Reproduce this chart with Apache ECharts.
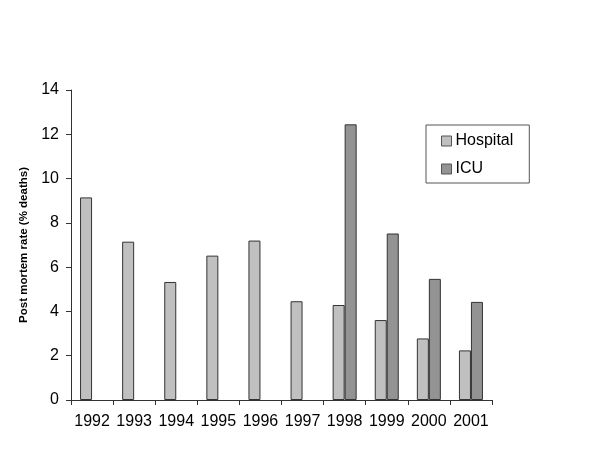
<!DOCTYPE html>
<html><head><meta charset="utf-8">
<script src="https://cdn.jsdelivr.net/npm/echarts@6/dist/echarts.min.js"></script>
<style>html,body{margin:0;padding:0;background:#fff}#c{width:600px;height:449px}</style>
</head><body><div id="c"></div>
<script>
var years = ['1992','1993','1994','1995','1996','1997','1998','1999','2000','2001'];
var hospital = [9.15, 7.15, 5.33, 6.52, 7.2, 4.46, 4.29, 3.61, 2.78, 2.24];
var icu = [null, null, null, null, null, null, 12.45, 7.52, 5.47, 4.43];
var yTicks = [0, 2, 4, 6, 8, 10, 12, 14];
var yTitle = 'Post mortem rate (% deaths)';

var chart = echarts.init(document.getElementById('c'));
var font = 'Liberation Sans, Arial, sans-serif';
chart.setOption({
  animation: false,
  backgroundColor: '#fff',
  grid: {left: 71, right: 108, top: 90, bottom: 49},
  legend: {
    orient: 'vertical', left: 426, top: 125,
    padding: [8, 16, 6, 15],
    borderColor: '#555', borderWidth: 1, backgroundColor: '#fff',
    itemWidth: 10, itemHeight: 10, itemGap: 12,
    icon: 'rect',
    itemStyle: {borderColor: '#555', borderWidth: 1},
    textStyle: {fontFamily: font, fontSize: 16, color: '#000', padding: [0,0,0,-1]},
    data: ['Hospital', 'ICU']
  },
  xAxis: {
    type: 'category', data: years,
    axisLine: {lineStyle: {color: '#333', width: 1}},
    axisTick: {show: true, length: 5, lineStyle: {color: '#333'}},
    axisLabel: {fontFamily: font, fontSize: 16, color: '#000', margin: 14,
      interval: 0, hideOverlap: false}
  },
  yAxis: {
    type: 'value', min: 0, max: 14, interval: 2,
    name: yTitle, nameLocation: 'middle', nameGap: 34,
    nameTextStyle: {fontFamily: font, fontSize: 11.5, fontWeight: 'bold', color: '#000'},
    splitLine: {show: false},
    axisLine: {show: true, lineStyle: {color: '#333', width: 1}},
    axisTick: {show: true, length: 5, lineStyle: {color: '#333'}},
    axisLabel: {fontFamily: font, fontSize: 16, color: '#000', margin: 12,
      formatter: function (v) { return yTicks.indexOf(v) >= 0 ? String(v) : ''; }}
  },
  series: [
    {name: 'Hospital', type: 'bar', data: hospital, barWidth: 12, barGap: '0%',
     itemStyle: {color: '#c0c0c0', borderColor: '#333', borderWidth: 1}},
    {name: 'ICU', type: 'bar', data: icu, barWidth: 12,
     itemStyle: {color: '#939393', borderColor: '#333', borderWidth: 1}}
  ]
});
</script></body></html>
